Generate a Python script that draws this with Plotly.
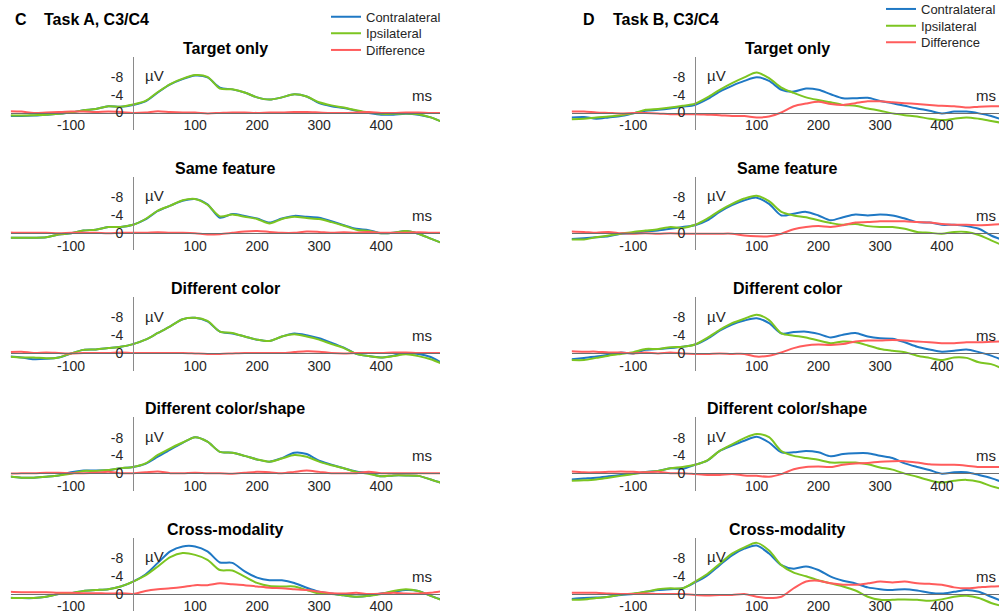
import plotly.graph_objects as go

T = [-200, -180, -160, -140, -120, -100, -80, -60, -40, -20, 0, 20, 40, 60, 80, 100, 120, 140,
     160, 180, 200, 220, 240, 260, 280, 300, 320, 340, 360, 380, 400, 420, 440, 460, 480, 500]

CONDITIONS = ["Target only", "Same feature", "Different color", "Different color/shape", "Cross-modality"]
SERIES = ["Contralateral", "Ipsilateral", "Difference"]

# ---- Task A (left column) ----
A1_contra = [0.8, 0.8, 0.7, 0.5, 0.3, 0.0, -0.5, -0.8, -1.4, -1.3, -1.7, -2.5, -4.5, -6.3, -7.5, -8.3, -7.9, -5.6, -5.2, -4.5, -3.4, -2.9, -3.4, -4.1, -3.6, -2.1, -1.4, -1.0, -0.4, 0.1, 0.5, 0.5, 0.3, 0.5, 1.1, 2.2]
A1_ipsi = [0.6, 0.7, 0.6, 0.5, 0.3, 0.0, -0.5, -0.8, -1.4, -1.3, -1.8, -2.6, -4.6, -6.4, -7.6, -8.4, -8.0, -5.4, -5.2, -4.5, -3.4, -2.9, -3.4, -4.1, -3.6, -2.3, -1.6, -1.1, -0.5, 0.0, 0.3, 0.3, 0.2, 0.4, 1.1, 2.2]
A1_diff = [-0.3, -0.2, 0.1, 0.0, -0.1, -0.2, -0.2, -0.1, -0.2, -0.1, 0.1, 0.0, -0.3, -0.1, 0.0, 0.0, 0.2, 0.1, 0.0, 0.0, 0.1, 0.0, 0.0, -0.1, -0.1, 0.0, 0.1, 0.1, 0.0, -0.1, 0.1, 0.1, 0.0, 0.0, 0.1, 0.1]

A2_contra = [1.1, 1.1, 1.1, 1.0, 0.4, 0.1, -0.5, -0.7, -1.3, -1.3, -1.8, -3.0, -4.9, -6.1, -7.2, -7.6, -6.4, -3.4, -4.2, -3.8, -3.2, -2.3, -3.2, -3.8, -3.6, -3.4, -2.6, -1.7, -0.9, -0.6, 0.1, 0.0, -0.4, 0.2, 1.3, 2.4]
A2_ipsi = [1.1, 1.1, 1.1, 1.0, 0.4, 0.1, -0.5, -0.7, -1.3, -1.3, -1.8, -3.1, -5.0, -6.1, -7.3, -7.6, -6.3, -3.7, -4.1, -3.6, -3.1, -2.1, -3.1, -3.6, -3.3, -3.1, -2.4, -1.6, -0.7, -0.4, 0.1, 0.0, -0.4, 0.2, 1.3, 2.4]
A2_diff = [-0.1, 0.0, 0.0, 0.0, 0.1, 0.0, 0.0, 0.0, 0.1, 0.0, 0.0, 0.0, -0.1, 0.0, 0.0, 0.1, 0.4, 0.3, 0.0, -0.3, -0.4, -0.2, 0.0, 0.0, -0.3, -0.2, 0.0, -0.1, 0.0, -0.2, 0.0, 0.0, 0.0, -0.1, 0.0, 0.0]

A3_contra = [0.8, 1.0, 1.4, 1.3, 1.0, 0.1, -0.7, -0.8, -1.1, -1.4, -2.0, -3.0, -4.5, -6.0, -7.6, -7.9, -7.1, -4.8, -4.4, -3.7, -3.0, -2.7, -3.7, -4.4, -4.0, -3.3, -2.3, -1.2, 0.2, 0.7, 1.0, 0.6, 0.1, 0.2, 0.9, 2.4]
A3_ipsi = [0.8, 1.0, 1.0, 1.2, 1.0, 0.1, -0.7, -0.8, -1.1, -1.4, -2.0, -3.0, -4.5, -6.0, -7.6, -7.9, -7.2, -4.8, -4.5, -3.7, -3.0, -2.7, -3.7, -4.2, -3.7, -3.0, -2.0, -1.1, 0.2, 0.7, 1.0, 0.7, 0.3, 0.7, 1.4, 2.5]
A3_diff = [-0.2, -0.3, 0.0, -0.1, 0.0, 0.1, 0.0, 0.0, 0.0, -0.1, 0.0, 0.0, 0.0, 0.0, 0.0, 0.1, 0.2, 0.2, 0.1, 0.0, 0.0, 0.0, 0.0, -0.2, -0.4, -0.3, 0.0, 0.1, 0.0, 0.0, 0.0, -0.1, -0.1, 0.0, 0.0, 0.0]

A4_contra = [0.7, 1.0, 1.0, 0.8, 0.5, -0.2, -0.6, -0.6, -0.7, -1.1, -1.4, -2.1, -3.7, -5.3, -6.8, -8.1, -7.1, -4.8, -4.6, -3.9, -3.1, -2.6, -3.4, -4.6, -4.3, -2.8, -1.9, -1.1, -0.4, 0.0, 0.7, 0.5, 0.5, 0.6, 1.4, 2.3]
A4_ipsi = [0.7, 1.0, 1.0, 0.8, 0.5, 0.1, -0.5, -0.5, -0.7, -1.1, -1.4, -2.2, -4.1, -5.6, -6.9, -8.1, -7.1, -4.8, -4.6, -3.9, -3.1, -2.6, -3.3, -4.1, -3.7, -2.6, -1.8, -1.1, -0.3, 0.1, 0.7, 0.5, 0.5, 0.6, 1.4, 2.3]
A4_diff = [0.1, 0.0, 0.0, -0.1, -0.1, 0.0, 0.0, -0.1, -0.3, 0.0, 0.0, -0.2, -0.4, 0.0, 0.0, -0.1, 0.0, 0.0, 0.1, -0.1, -0.3, -0.2, 0.0, -0.3, -0.6, -0.3, 0.0, 0.0, 0.0, -0.3, 0.0, 0.0, 0.0, 0.0, 0.0, 0.0]

A5_contra = [0.9, 1.0, 1.0, 0.7, 0.1, -0.1, -0.6, -0.8, -1.0, -1.6, -2.7, -4.3, -6.9, -9.5, -10.6, -10.6, -9.5, -7.0, -6.9, -5.0, -3.6, -3.0, -3.0, -2.4, -1.3, -0.4, 0.0, 0.4, 0.7, 0.5, 0.0, -0.4, -0.8, -0.6, 0.5, 1.5]
A5_ipsi = [1.0, 1.0, 1.0, 0.7, 0.1, -0.1, -0.6, -0.8, -1.0, -1.6, -2.7, -4.1, -6.1, -8.2, -9.1, -8.7, -7.6, -5.3, -5.2, -3.8, -2.4, -1.7, -1.6, -1.6, -0.8, 0.0, 0.1, 0.4, 0.7, 0.5, 0.1, -0.6, -1.0, -0.6, 0.5, 1.6]
A5_diff = [-0.4, -0.3, -0.3, -0.3, -0.2, -0.2, -0.1, -0.1, 0.0, -0.1, 0.1, -0.6, -1.0, -1.2, -1.5, -1.9, -1.9, -2.3, -2.1, -1.9, -1.6, -1.3, -1.2, -1.0, -0.8, -0.4, -0.1, 0.0, -0.2, 0.1, 0.0, -0.2, 0.0, 0.0, -0.2, -0.6]

# ---- Task B (right column) ----
B1_contra = [1.1, 1.0, 1.4, 1.1, 0.8, 0.2, -0.4, -0.6, -0.9, -1.3, -1.7, -3.0, -4.7, -6.0, -7.1, -7.9, -7.1, -5.1, -4.7, -5.4, -5.1, -4.1, -3.2, -3.2, -3.3, -2.6, -2.1, -1.5, -0.9, -0.4, 0.2, -0.2, -0.2, 0.2, 0.8, 1.7]
B1_ipsi = [1.5, 1.4, 1.1, 0.9, 0.6, 0.2, -0.6, -0.8, -1.1, -1.5, -2.0, -3.4, -5.1, -6.6, -7.9, -9.0, -7.7, -5.6, -4.4, -3.4, -2.8, -2.3, -1.7, -1.5, -0.9, -0.4, 0.2, 0.6, 0.9, 1.4, 1.7, 1.4, 1.1, 1.4, 1.9, 2.4]
B1_diff = [-0.2, -0.2, 0.0, 0.1, 0.2, 0.1, 0.1, 0.2, 0.4, 0.4, 0.4, 0.5, 0.6, 0.8, 0.8, 1.1, 0.9, 0.0, -1.4, -2.0, -2.4, -1.9, -1.7, -2.1, -2.5, -2.5, -2.3, -2.1, -1.9, -1.7, -1.5, -1.4, -1.1, -1.3, -1.4, -1.4]

B2_contra = [1.4, 1.2, 1.0, 0.8, 0.2, 0.1, -0.3, -0.5, -0.9, -1.3, -1.7, -2.8, -4.7, -6.2, -7.3, -7.9, -6.5, -3.9, -4.3, -4.7, -3.9, -2.8, -3.5, -4.1, -3.9, -4.1, -3.9, -3.2, -2.4, -2.3, -1.8, -1.8, -1.5, -0.9, 0.6, 1.7]
B2_ipsi = [1.5, 1.5, 1.0, 0.6, 0.2, -0.2, -0.5, -0.8, -1.3, -1.1, -1.8, -3.2, -5.0, -6.5, -7.7, -8.3, -7.1, -4.7, -3.9, -3.5, -2.8, -2.2, -1.8, -2.0, -1.5, -1.3, -1.3, -0.9, -0.2, 0.0, 0.2, -0.2, -0.2, 0.5, 1.7, 2.9]
B2_diff = [-0.3, -0.2, 0.0, -0.2, 0.1, 0.2, 0.1, 0.2, 0.1, 0.2, 0.2, 0.2, 0.2, 0.2, 0.6, 0.8, 0.8, 0.2, -0.8, -1.3, -1.5, -1.3, -1.7, -2.3, -2.4, -2.6, -2.6, -2.6, -2.4, -2.3, -2.0, -1.8, -1.8, -1.7, -1.8, -2.0]

B3_contra = [1.4, 1.1, 0.8, 0.4, -0.1, 0.1, -0.7, -0.9, -1.1, -1.4, -1.9, -3.2, -5.0, -6.4, -7.3, -7.8, -6.7, -4.4, -4.7, -4.8, -4.3, -3.5, -4.1, -4.5, -3.7, -3.3, -3.2, -2.4, -1.4, -0.8, -0.3, -0.5, -0.8, -0.2, 0.6, 1.7]
B3_ipsi = [1.6, 1.6, 1.1, 0.6, 0.2, -0.2, -0.9, -0.9, -1.3, -1.4, -1.9, -3.4, -5.2, -6.7, -7.7, -8.6, -7.4, -4.4, -3.9, -3.5, -2.8, -2.2, -2.6, -2.4, -1.7, -0.9, -0.5, -0.2, 0.6, 1.1, 1.6, 1.0, 1.1, 2.1, 2.5, 3.6]
B3_diff = [-0.4, -0.3, -0.3, -0.1, -0.1, 0.1, -0.1, 0.1, -0.1, 0.1, 0.2, 0.2, 0.1, 0.2, 0.2, 0.8, 0.6, -0.1, -1.1, -1.7, -1.9, -1.8, -2.0, -2.6, -2.8, -2.8, -2.9, -2.8, -2.6, -2.4, -2.2, -2.2, -2.4, -2.4, -2.5, -2.6]

B4_contra = [1.4, 1.2, 1.0, 0.7, 0.4, 0.1, -0.3, -0.5, -1.1, -1.0, -1.9, -2.8, -5.0, -6.2, -7.3, -8.2, -6.9, -4.7, -4.7, -5.0, -4.7, -3.8, -4.3, -4.5, -4.5, -3.9, -3.4, -2.2, -1.4, -0.7, 0.1, -0.2, -0.2, 0.4, 1.1, 2.1]
B4_ipsi = [1.7, 1.6, 1.4, 1.0, 0.6, 0.2, -0.2, -0.5, -1.1, -1.4, -1.9, -2.9, -5.0, -6.5, -7.9, -8.8, -8.1, -5.0, -3.9, -3.4, -3.0, -2.4, -2.4, -2.4, -2.0, -1.3, -0.8, 0.1, 0.8, 1.6, 2.1, 1.7, 1.5, 1.9, 2.9, 3.6]
B4_diff = [-0.4, -0.2, -0.2, -0.3, -0.4, -0.3, -0.2, -0.3, 0.0, 0.0, 0.2, 0.4, 0.4, 0.2, 0.5, 0.6, 0.8, 0.2, -0.9, -1.4, -1.5, -1.4, -1.9, -2.2, -2.3, -2.6, -2.7, -2.7, -2.4, -2.0, -1.9, -1.9, -1.7, -1.4, -1.4, -1.4]

B5_contra = [1.2, 1.0, 0.9, 0.7, 0.3, 0.1, -0.4, -0.8, -1.0, -1.2, -2.5, -4.1, -6.4, -8.6, -10.1, -10.8, -9.0, -6.4, -5.6, -6.1, -5.3, -3.8, -2.9, -2.3, -1.4, -1.0, -0.8, -1.0, -0.7, -0.2, 0.0, -0.4, -0.8, -0.4, 0.7, 1.8]
B5_ipsi = [1.4, 1.3, 1.0, 0.7, 0.2, 0.0, -0.4, -1.0, -1.2, -1.2, -2.7, -4.4, -6.7, -9.0, -10.4, -11.4, -9.7, -6.4, -4.7, -3.9, -3.0, -2.3, -1.6, -0.7, 0.7, 1.4, 1.4, 1.3, 1.4, 1.6, 1.3, 0.7, 0.5, 1.0, 2.1, 2.9]
B5_diff = [-0.2, -0.2, -0.2, 0.0, 0.1, 0.1, 0.0, 0.1, 0.1, 0.1, 0.3, 0.4, 0.3, 0.3, 0.1, 0.7, 1.0, 0.7, -1.2, -2.7, -2.9, -2.3, -2.0, -2.0, -2.3, -2.7, -2.5, -2.7, -2.3, -2.2, -2.0, -1.4, -1.2, -1.4, -1.6, -1.7]

TASK_A = [(A1_contra, A1_ipsi, A1_diff), (A2_contra, A2_ipsi, A2_diff), (A3_contra, A3_ipsi, A3_diff),
          (A4_contra, A4_ipsi, A4_diff), (A5_contra, A5_ipsi, A5_diff)]
TASK_B = [(B1_contra, B1_ipsi, B1_diff), (B2_contra, B2_ipsi, B2_diff), (B3_contra, B3_ipsi, B3_diff),
          (B4_contra, B4_ipsi, B4_diff), (B5_contra, B5_ipsi, B5_diff)]

X_TICKS = [-100, 100, 200, 300, 400]
X_TICK_LABELS = ["-100", "100", "200", "300", "400"]
Y_TICKS = [-8, -4, 0]
Y_TICK_LABELS = ["-8", "-4", "0"]
COLORS = ["#1f78c4", "#7cc521", "#ff5c5c"]

W, H = 999, 616
FONT = "Arial, 'Liberation Sans', Helvetica, sans-serif"
PX_PER_UV = 4.45
ZERO_ROWS = [112.5, 232.8, 353.0, 473.2, 593.6]
COLS = [
    dict(zero_px=133.0, xr=[-197, 495], dom=[10.9 / W, 440.0 / W], title_x=225, ms_x=485.5,
         traces=TASK_A, label="C", name="Task A, C3/C4", lx=12.5, nx=41.5,
         legends=["legend", "legend2", "legend3"], leg_x=326, leg_rows=[17.7, 34.3, 51.0]),
    dict(zero_px=695.0, xr=[-200, 492.7], dom=[571.6 / W, 1.0], title_x=787, ms_x=491.5,
         traces=TASK_B, label="D", name="Task B, C3/C4", lx=580.5, nx=610.5,
         legends=["legend4", "legend5", "legend6"], leg_x=881, leg_rows=[10.0, 26.7, 43.3]),
]

fig = go.Figure()
layout = {}
annotations = []
k = 0
for c, col in enumerate(COLS):
    for r, z in enumerate(ZERO_ROWS):
        k += 1
        xa = "xaxis" if k == 1 else f"xaxis{k}"
        ya = "yaxis" if k == 1 else f"yaxis{k}"
        xr = "x" if k == 1 else f"x{k}"
        yr = "y" if k == 1 else f"y{k}"
        top_px, bot_px = z - 56.0, z + 17.5
        layout[xa] = dict(domain=col["dom"], range=col["xr"], anchor="free", position=1 - z / H,
                          showline=True, linecolor="#6e6e6e", linewidth=1, showgrid=False, zeroline=False,
                          tickmode="array", tickvals=X_TICKS, ticktext=X_TICK_LABELS, ticks="",
                          ticklabelstandoff=0,
                          tickfont=dict(size=14, color="#262626", family=FONT), fixedrange=True)
        layout[ya] = dict(domain=[1 - bot_px / H, 1 - top_px / H], range=[17.5 / PX_PER_UV, -56.0 / PX_PER_UV],
                          anchor="free", position=col["zero_px"] / W,
                          showline=True, linecolor="#8a8a8a", linewidth=1, showgrid=False, zeroline=False,
                          tickmode="array", tickvals=Y_TICKS, ticktext=Y_TICK_LABELS, ticks="",
                          ticklabelstandoff=7,
                          tickfont=dict(size=14, color="#262626", family=FONT), fixedrange=True)
        for s, (vals, name, color) in enumerate(zip(col["traces"][r], SERIES, COLORS)):
            fig.add_trace(go.Scatter(x=T, y=vals, xaxis=xr, yaxis=yr, mode="lines", name=name,
                                     line=dict(color=color, width=2, shape="spline", smoothing=0.8),
                                     showlegend=(r == 0), legend=col["legends"][s], hoverinfo="skip"))
        # subplot title
        annotations.append(dict(text=f"<b>{CONDITIONS[r]}</b>", xref="paper", yref="paper",
                                x=col["title_x"] / W, y=1 - (z - 64.5) / H, xanchor="center", yanchor="middle",
                                showarrow=False, font=dict(size=16, color="black", family=FONT)))
        annotations.append(dict(text="µV", xref=xr, yref=yr, x=16, y=-8.3, xanchor="left", yanchor="middle",
                                showarrow=False, font=dict(size=15, color="#262626", family=FONT)))
        annotations.append(dict(text="ms", xref=xr, yref=yr, x=col["ms_x"], y=-3.9, xanchor="right",
                                yanchor="middle", showarrow=False, font=dict(size=15, color="#262626", family=FONT)))
    annotations.append(dict(text=f"<b>{col['label']}</b>", xref="paper", yref="paper", x=col["lx"] / W,
                            y=1 - 19 / H, xanchor="left", yanchor="middle", showarrow=False,
                            font=dict(size=16, color="black", family=FONT)))
    annotations.append(dict(text=f"<b>{col['name']}</b>", xref="paper", yref="paper", x=col["nx"] / W,
                            y=1 - 19 / H, xanchor="left", yanchor="middle", showarrow=False,
                            font=dict(size=16, color="black", family=FONT)))
    for lg, row_y in zip(col["legends"], col["leg_rows"]):
        layout[lg] = dict(x=col["leg_x"] / W, y=1 - (row_y - 16) / H, xanchor="left", yanchor="top",
                          bgcolor="rgba(0,0,0,0)", borderwidth=0,
                          font=dict(size=13, color="#262626", family=FONT), itemwidth=30)

fig.update_layout(width=W, height=H, margin=dict(l=0, r=0, t=0, b=0, autoexpand=False), paper_bgcolor="white",
                  plot_bgcolor="rgba(0,0,0,0)", font=dict(family=FONT), annotations=annotations, **layout)
fig.write_html("out.html")
